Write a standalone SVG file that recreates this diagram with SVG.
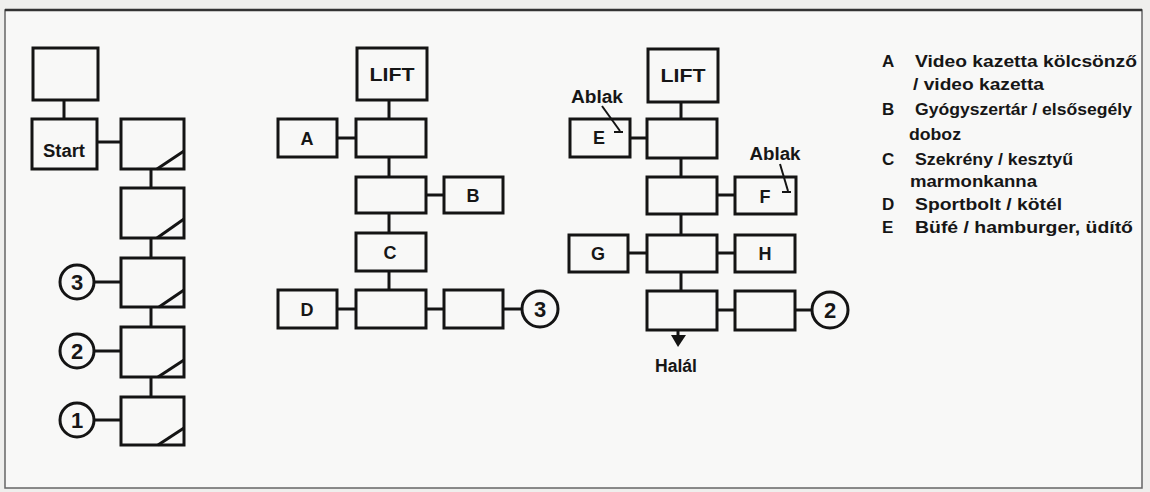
<svg xmlns="http://www.w3.org/2000/svg" width="1150" height="492" viewBox="0 0 1150 492">
<defs>
<style>
.bx{fill:none;stroke:#141414;stroke-width:3;stroke-linejoin:miter}
.ln{fill:none;stroke:#141414;stroke-width:3}
.thin{fill:none;stroke:#141414;stroke-width:2}
.t{font-family:"Liberation Sans",Arial,sans-serif;font-weight:bold;fill:#161616;text-anchor:middle}
.lab{font-size:18px}
.num{font-size:22px}
.lg{font-family:"Liberation Sans",Arial,sans-serif;font-weight:bold;fill:#161616;font-size:17px}
</style>
</defs>
<rect x="0" y="0" width="1150" height="492" fill="#efefed"/>
<rect x="5" y="10" width="1137" height="478" fill="#f8f8f7" stroke="#666" stroke-width="1.5"/>
<line x1="5" y1="10" x2="1142" y2="10" stroke="#333" stroke-width="2.5"/>

<g id="connectors">
<line class="ln" x1="64" y1="100" x2="64" y2="119"/>
<line class="ln" x1="97" y1="142" x2="121" y2="142"/>
<line class="ln" x1="151" y1="169" x2="151" y2="188"/>
<line class="ln" x1="151" y1="238" x2="151" y2="258"/>
<line class="ln" x1="151" y1="307" x2="151" y2="327"/>
<line class="ln" x1="151" y1="377" x2="151" y2="397"/>
<line class="ln" x1="95" y1="282" x2="121" y2="282"/>
<line class="ln" x1="95" y1="351" x2="121" y2="351"/>
<line class="ln" x1="95" y1="420" x2="121" y2="420"/>
<line class="ln" x1="389" y1="100" x2="389" y2="119"/>
<line class="ln" x1="389" y1="157" x2="389" y2="177"/>
<line class="ln" x1="389" y1="213" x2="389" y2="233"/>
<line class="ln" x1="389" y1="271" x2="389" y2="290"/>
<line class="ln" x1="337" y1="138" x2="356" y2="138"/>
<line class="ln" x1="426" y1="195" x2="444" y2="195"/>
<line class="ln" x1="337" y1="309" x2="356" y2="309"/>
<line class="ln" x1="426" y1="309" x2="444" y2="309"/>
<line class="ln" x1="503" y1="309" x2="522" y2="309"/>
<line class="ln" x1="681" y1="102" x2="681" y2="119"/>
<line class="ln" x1="681" y1="158" x2="681" y2="177"/>
<line class="ln" x1="681" y1="214" x2="681" y2="235"/>
<line class="ln" x1="681" y1="272" x2="681" y2="291"/>
<line class="ln" x1="630" y1="138" x2="647" y2="138"/>
<line class="ln" x1="717" y1="195" x2="735" y2="195"/>
<line class="ln" x1="628" y1="253" x2="647" y2="253"/>
<line class="ln" x1="717" y1="253" x2="735" y2="253"/>
<line class="ln" x1="717" y1="310" x2="735" y2="310"/>
<line class="ln" x1="795" y1="310" x2="812" y2="310"/>
<line class="ln" x1="678" y1="330" x2="678" y2="338"/>
<polygon points="671,335 686,335 678,347" fill="#141414"/>
<line class="thin" x1="602" y1="106" x2="620" y2="131"/>
<line class="thin" x1="614" y1="132" x2="623" y2="132"/>
<line class="thin" x1="780" y1="164" x2="788" y2="191"/>
<line class="thin" x1="782" y1="192" x2="791" y2="192"/>
</g>

<g id="n-top"><rect class="bx" x="33" y="48" width="65" height="52"/></g>
<g id="n-start"><rect class="bx" x="32" y="119" width="65" height="50"/><text class="t lab" x="64" y="157" textLength="42" lengthAdjust="spacingAndGlyphs">Start</text></g>
<g id="n-l1"><rect class="bx" x="121" y="119" width="63" height="50"/><line class="ln" x1="157" y1="169" x2="184" y2="151"/></g>
<g id="n-l2"><rect class="bx" x="121" y="188" width="63" height="50"/><line class="ln" x1="157" y1="238" x2="184" y2="219"/></g>
<g id="n-l3"><rect class="bx" x="121" y="258" width="63" height="49"/><line class="ln" x1="159" y1="307" x2="184" y2="290"/></g>
<g id="n-l4"><rect class="bx" x="121" y="327" width="63" height="50"/><line class="ln" x1="158" y1="377" x2="184" y2="360"/></g>
<g id="n-l5"><rect class="bx" x="121" y="397" width="63" height="48"/><line class="ln" x1="158" y1="445" x2="184" y2="428"/></g>
<g id="c-3a"><circle class="ln" cx="77" cy="282" r="17"/><text class="t num" x="77" y="290">3</text></g>
<g id="c-2a"><circle class="ln" cx="77" cy="351" r="17"/><text class="t num" x="77" y="359">2</text></g>
<g id="c-1a"><circle class="ln" cx="77" cy="420" r="17"/><text class="t num" x="77" y="428">1</text></g>

<g id="n-lift1"><rect class="bx" x="357" y="48" width="70" height="52"/><text class="t lab" x="392" y="81" textLength="45" lengthAdjust="spacingAndGlyphs">LIFT</text></g>
<g id="n-A"><rect class="bx" x="278" y="119" width="59" height="38"/><text class="t lab" x="307" y="145">A</text></g>
<g id="n-m2"><rect class="bx" x="356" y="119" width="70" height="38"/></g>
<g id="n-m3"><rect class="bx" x="356" y="177" width="70" height="36"/></g>
<g id="n-B"><rect class="bx" x="444" y="177" width="59" height="36"/><text class="t lab" x="473" y="202">B</text></g>
<g id="n-C"><rect class="bx" x="356" y="233" width="70" height="38"/><text class="t lab" x="390" y="259">C</text></g>
<g id="n-D"><rect class="bx" x="278" y="290" width="59" height="38"/><text class="t lab" x="307" y="316">D</text></g>
<g id="n-m5"><rect class="bx" x="356" y="290" width="70" height="38"/></g>
<g id="n-m6"><rect class="bx" x="444" y="290" width="59" height="38"/></g>
<g id="c-3b"><circle class="ln" cx="540" cy="309" r="18"/><text class="t num" x="540" y="317">3</text></g>

<g id="n-lift2"><rect class="bx" x="648" y="49" width="70" height="53"/><text class="t lab" x="683" y="82" textLength="45" lengthAdjust="spacingAndGlyphs">LIFT</text></g>
<g id="n-E"><rect class="bx" x="570" y="119" width="60" height="38"/><text class="t lab" x="599" y="144">E</text></g>
<g id="n-r2"><rect class="bx" x="647" y="119" width="70" height="39"/></g>
<g id="n-r3"><rect class="bx" x="647" y="177" width="70" height="37"/></g>
<g id="n-F"><rect class="bx" x="735" y="177" width="61" height="37"/><text class="t lab" x="765" y="203">F</text></g>
<g id="n-G"><rect class="bx" x="569" y="235" width="59" height="37"/><text class="t lab" x="598" y="260">G</text></g>
<g id="n-r4"><rect class="bx" x="647" y="235" width="70" height="37"/></g>
<g id="n-H"><rect class="bx" x="735" y="235" width="60" height="37"/><text class="t lab" x="765" y="260">H</text></g>
<g id="n-r5"><rect class="bx" x="647" y="291" width="70" height="39"/></g>
<g id="n-r6"><rect class="bx" x="735" y="291" width="60" height="39"/></g>
<g id="c-2b"><circle class="ln" cx="830" cy="310" r="18"/><text class="t num" x="830" y="318">2</text></g>
<text class="t lab" x="597" y="103" textLength="52" lengthAdjust="spacingAndGlyphs">Ablak</text>
<text class="t lab" x="775" y="160" textLength="51" lengthAdjust="spacingAndGlyphs">Ablak</text>
<text class="t lab" x="676" y="372" textLength="42" lengthAdjust="spacingAndGlyphs">Halál</text>

<g id="legend">
<text class="lg" x="882" y="67">A</text>
<text class="lg" x="915" y="67" textLength="222" lengthAdjust="spacingAndGlyphs">Video kazetta kölcsönző</text>
<text class="lg" x="913" y="90" textLength="131" lengthAdjust="spacingAndGlyphs">/ video kazetta</text>
<text class="lg" x="882" y="115">B</text>
<text class="lg" x="915" y="115" textLength="217" lengthAdjust="spacingAndGlyphs">Gyógyszertár / elsősegély</text>
<text class="lg" x="909" y="140" textLength="52" lengthAdjust="spacingAndGlyphs">doboz</text>
<text class="lg" x="882" y="165">C</text>
<text class="lg" x="915" y="165" textLength="158" lengthAdjust="spacingAndGlyphs">Szekrény / kesztyű</text>
<text class="lg" x="910" y="187" textLength="127" lengthAdjust="spacingAndGlyphs">marmonkanna</text>
<text class="lg" x="882" y="210">D</text>
<text class="lg" x="915" y="210" textLength="147" lengthAdjust="spacingAndGlyphs">Sportbolt / kötél</text>
<text class="lg" x="882" y="233">E</text>
<text class="lg" x="915" y="233" textLength="218" lengthAdjust="spacingAndGlyphs">Büfé / hamburger, üdítő</text>
</g>
</svg>
